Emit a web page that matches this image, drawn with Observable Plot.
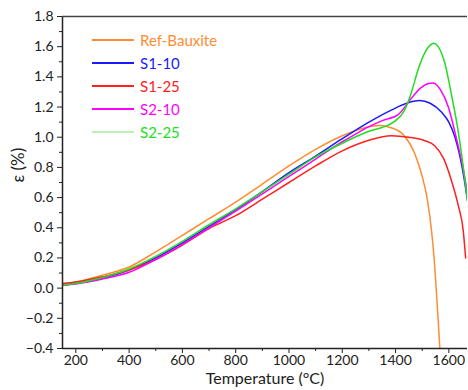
<!DOCTYPE html>
<html>
<head>
<meta charset="utf-8">
<script src="https://cdn.jsdelivr.net/npm/d3@7"></script>
<script src="https://cdn.jsdelivr.net/npm/@observablehq/plot@0.6"></script>
<style>
  html, body { margin: 0; padding: 0; background: #fff; }
  #wrap { position: relative; width: 468px; height: 390px; font-family: Lato, "Open Sans", sans-serif; }
  #legend { position: absolute; left: 92px; top: 28px; }
  .row { display: flex; align-items: center; height: 23px; font-size: 15px; }
  .row svg { margin-right: 6px; }
</style>
</head>
<body>
<div id="wrap"><div id="legend"></div></div>
<script>
const seriesNames = ["Ref-Bauxite", "S1-10", "S1-25", "S2-10", "S2-25"];
const seriesColors = ["#ff8c33", "#1a1aff", "#ff2020", "#ff00ff", "#22dd22"];
const legendLineColors = ["#ff8c33", "#1a1aff", "#ff2020", "#ff00ff", "#b8f0b8"];

const refT = [150,200,300,400,500,600,700,800,900,1000,1100,1200,1300,1340,1380,1430,1470,1500,1520,1535,1545,1556,1567];
const refV = [0.025,0.04,0.085,0.14,0.24,0.35,0.46,0.57,0.69,0.81,0.92,1.01,1.07,1.078,1.065,1.015,0.90,0.74,0.58,0.38,0.19,-0.10,-0.42];

const s110T = [150,200,300,400,500,600,700,800,900,1000,1100,1200,1300,1384,1450,1490,1530,1573,1600,1623,1650,1670];
const s110V = [0.02,0.03,0.065,0.12,0.20,0.30,0.41,0.52,0.64,0.765,0.875,0.99,1.10,1.18,1.23,1.243,1.225,1.165,1.10,1.00,0.80,0.58];

const s125T = [150,200,300,400,500,600,700,800,900,1000,1100,1200,1300,1384,1450,1510,1547,1580,1610,1635,1654,1663];
const s125V = [0.03,0.04,0.075,0.12,0.19,0.285,0.395,0.48,0.59,0.70,0.81,0.91,0.98,1.01,1.0,0.977,0.944,0.86,0.712,0.55,0.381,0.20];

const s210T = [150,200,300,400,500,600,700,800,900,1000,1100,1200,1259,1300,1350,1410,1460,1497,1520,1541,1570,1598,1630,1655,1670];
const s210V = [0.02,0.028,0.06,0.105,0.19,0.29,0.40,0.51,0.625,0.74,0.855,0.97,1.03,1.07,1.11,1.15,1.26,1.33,1.355,1.36,1.31,1.20,0.98,0.78,0.62];

const s225T = [150,200,300,400,500,600,700,800,900,1000,1100,1200,1259,1300,1372,1400,1434,1460,1485,1510,1530,1544,1560,1585,1610,1635,1655,1670];
const s225V = [0.02,0.03,0.07,0.127,0.21,0.31,0.42,0.525,0.64,0.755,0.87,0.96,1.01,1.04,1.08,1.11,1.18,1.30,1.45,1.56,1.61,1.622,1.60,1.49,1.28,1.04,0.79,0.58];

const xTicks = [200,400,600,800,1000,1200,1400,1600];
const xMinor = [300,500,700,900,1100,1300,1500];
const yTicks = [-0.4,-0.2,0,0.2,0.4,0.6,0.8,1.0,1.2,1.4,1.6,1.8];
const yMinor = [-0.3,-0.1,0.1,0.3,0.5,0.7,0.9,1.1,1.3,1.5,1.7];

const allT = [refT, s110T, s125T, s210T, s225T];
const allV = [refV, s110V, s125V, s210V, s225V];
const data = [];
seriesNames.forEach((name, i) => {
  allT[i].forEach((t, j) => data.push({series: name, T: t, v: allV[i][j]}));
});

const font = "Lato, 'Open Sans', sans-serif";
const chart = Plot.plot({
  width: 468,
  height: 390,
  marginLeft: 62,
  marginRight: 1,
  marginTop: 16,
  marginBottom: 42,
  style: {fontFamily: font, fontSize: "14px", color: "#222", background: "white"},
  x: {domain: [150, 1670], label: null},
  y: {domain: [-0.4, 1.8], label: null},
  color: {domain: seriesNames, range: seriesColors},
  marks: [
    Plot.line(data, {x: "T", y: "v", z: "series", stroke: "series", strokeWidth: 1.5, curve: "monotone-x", clip: true}),
    Plot.axisX({ticks: xMinor, tickSize: 3, text: null, stroke: "#222", label: null}),
    Plot.axisY({ticks: yMinor, tickSize: 3, text: null, stroke: "#222", label: null}),
    Plot.axisX({ticks: xTicks, tickSize: 5, tickPadding: 2, fontSize: 14, stroke: "#222", fill: "#222", tickFormat: d3.format("d"), label: null}),
    Plot.axisY({ticks: yTicks, tickSize: 5, tickPadding: 4, fontSize: 14, stroke: "#222", fill: "#222", tickFormat: d3.format(".1f"), label: null}),
    Plot.ruleX([150], {stroke: "#222", strokeWidth: 1.5}),
    Plot.ruleY([-0.4], {stroke: "#222", strokeWidth: 1.5}),
    Plot.ruleY([1.8], {stroke: "#444", strokeWidth: 1.5}),
    Plot.text(["Temperature (°C)"], {frameAnchor: "bottom", dy: 35, fontSize: 16, fill: "#222"}),
    Plot.text(["ε (%)"], {frameAnchor: "left", dx: -44, rotate: -90, fontSize: 17, fill: "#222"})
  ]
});
const wrap = document.getElementById("wrap");
wrap.insertBefore(chart, wrap.firstChild);

const legend = document.getElementById("legend");
seriesNames.forEach((name, i) => {
  const row = document.createElement("div");
  row.className = "row";
  row.innerHTML = `<svg width="42" height="4"><line x1="0" x2="42" y1="2" y2="2" stroke="${legendLineColors[i]}" stroke-width="2"/></svg><span style="color:${seriesColors[i]}">${name}</span>`;
  legend.appendChild(row);
});
</script>
</body>
</html>
